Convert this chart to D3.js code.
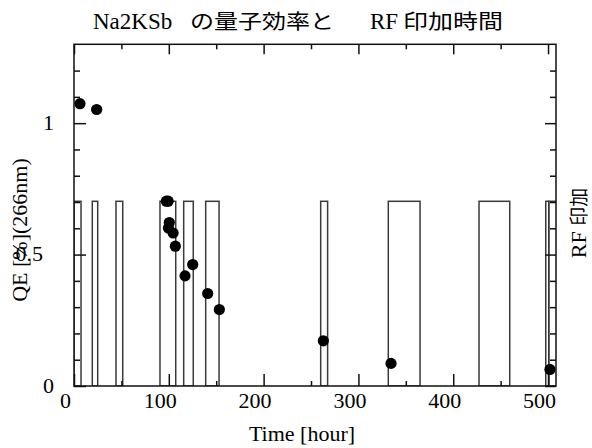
<!DOCTYPE html>
<html>
<head>
<meta charset="utf-8">
<script src="https://cdn.jsdelivr.net/npm/d3@7"></script>
<style>
  html, body { margin: 0; padding: 0; background: #fff; }
  svg { display: block; }
</style>
</head>
<body>
<svg id="chart" width="592" height="448"></svg>
<script>
// ---- data ----
const timeHour = [6.3, 23.9, 97.4, 99.3, 100.5, 99.6, 104.5, 106.9, 117.1, 125.2, 141.0, 153.3, 263.0, 334.4, 502.0];
const qePercent = [1.074, 1.052, 0.703, 0.703, 0.622, 0.601, 0.582, 0.532, 0.419, 0.462, 0.352, 0.291, 0.172, 0.086, 0.063];

// RF applied intervals (hours)
const rfStart = [0, 19.3, 44.3, 90.7, 115.7, 138.9, 260.2, 331.5, 427.2, 497.6, 500.8];
const rfEnd   = [7.4, 25.0, 51.4, 107.3, 125.8, 153.0, 267.5, 365.0, 459.6, 500.8, 512];
const rfOn = 1;

const xMajorTicks = [0, 100, 200, 300, 400, 500];
const xMinorTicks = [50, 150, 250, 350, 450];
const yMajorTicks = [0, 0.5, 1];
const yMinorTicks = [0.1, 0.2, 0.3, 0.4, 0.6, 0.7, 0.8, 0.9, 1.1, 1.2];

const titleLatin = "Na2KSb";
const titleJa1 = "の量子効率と";
const titleRF = "RF";
const titleJa2 = "印加時間";
const xLabel = "Time [hour]";
const yLabel = "QE [%](266nm)";
const y2Label = "RF 印加";

// ---- layout ----
const svg = d3.select("#chart");
const L = 74, R = 556, T = 44.3, B = 386;
const serif = "'Liberation Serif', 'Times New Roman', serif";
const cjk = "'Noto Sans CJK JP', sans-serif";

const x = d3.scaleLinear().domain([0, 508.4]).range([L, R]);
const y = d3.scaleLinear().domain([0, 1.3]).range([B, T]);
const yRF = d3.scaleLinear().domain([0, 1.85]).range([B, T]);

svg.append("defs").append("clipPath").attr("id", "plotclip")
  .append("rect").attr("x", L).attr("y", T).attr("width", R - L).attr("height", B - T);

// RF bars
const rf = rfStart.map((s, i) => ({ s, e: rfEnd[i], v: rfOn }));
svg.append("g").attr("clip-path", "url(#plotclip)")
  .selectAll("rect").data(rf).join("rect")
  .attr("x", d => x(d.s))
  .attr("width", d => x(d.e) - x(d.s))
  .attr("y", d => yRF(d.v))
  .attr("height", d => yRF(0) - yRF(d.v))
  .attr("fill", "none")
  .attr("stroke", "#3a3a3a")
  .attr("stroke-width", 1.5);

// axes helper
function styleAxis(g) {
  g.select(".domain").remove();
  g.selectAll(".tick line").attr("stroke", "#111").attr("stroke-width", 1.5);
  g.selectAll("text").attr("font-family", serif).attr("font-size", 22).attr("fill", "#000");
}

// bottom
svg.append("g").attr("transform", `translate(0,${B})`)
  .call(d3.axisBottom(x).tickValues(xMajorTicks).tickSizeInner(-12).tickSizeOuter(0).tickPadding(6.5).tickFormat(d3.format("d")))
  .call(styleAxis)
  .call(g => g.selectAll("text").attr("dx", -9));
svg.append("g").attr("transform", `translate(0,${B})`)
  .call(d3.axisBottom(x).tickValues(xMinorTicks).tickSizeInner(-5).tickSizeOuter(0).tickFormat(""))
  .call(styleAxis);
// top
svg.append("g").attr("transform", `translate(0,${T})`)
  .call(d3.axisTop(x).tickValues(xMajorTicks).tickSizeInner(-10).tickSizeOuter(0).tickFormat(""))
  .call(styleAxis);
svg.append("g").attr("transform", `translate(0,${T})`)
  .call(d3.axisTop(x).tickValues(xMinorTicks).tickSizeInner(-5).tickSizeOuter(0).tickFormat(""))
  .call(styleAxis);
// left
svg.append("g").attr("transform", `translate(${L},0)`)
  .call(d3.axisLeft(y).tickValues(yMajorTicks).tickSizeInner(-12).tickSizeOuter(0).tickPadding(20).tickFormat(d => String(d)))
  .call(styleAxis)
  .call(g => g.selectAll("text").attr("dx", d => (d % 1 ? -11 : 0)).attr("dy", "0.28em"));
svg.append("g").attr("transform", `translate(${L},0)`)
  .call(d3.axisLeft(y).tickValues(yMinorTicks).tickSizeInner(-6).tickSizeOuter(0).tickFormat(""))
  .call(styleAxis);
// right
svg.append("g").attr("transform", `translate(${R},0)`)
  .call(d3.axisRight(y).tickValues(yMajorTicks).tickSizeInner(-11).tickSizeOuter(0).tickFormat(""))
  .call(styleAxis);
svg.append("g").attr("transform", `translate(${R},0)`)
  .call(d3.axisRight(y).tickValues(yMinorTicks).tickSizeInner(-6).tickSizeOuter(0).tickFormat(""))
  .call(styleAxis);

// frame
svg.append("rect").attr("x", L).attr("y", T).attr("width", R - L).attr("height", B - T)
  .attr("fill", "none").attr("stroke", "#111").attr("stroke-width", 1.5);

// points
const pts = timeHour.map((t, i) => ({ t, q: qePercent[i] }));
svg.append("g").selectAll("circle").data(pts).join("circle")
  .attr("cx", d => x(d.t)).attr("cy", d => y(d.q)).attr("r", 5.6).attr("fill", "#000");

// title
const title = svg.append("text").attr("y", 29).attr("fill", "#000");
title.append("tspan").attr("x", 93).attr("font-family", serif).attr("font-size", 23).text(titleLatin);
title.append("tspan").attr("x", 190).attr("font-family", cjk).attr("font-size", 20)
  .attr("textLength", 144).attr("lengthAdjust", "spacingAndGlyphs").text(titleJa1);
title.append("tspan").attr("x", 370).attr("font-family", serif).attr("font-size", 23).text(titleRF);
title.append("tspan").attr("x", 403).attr("font-family", cjk).attr("font-size", 20)
  .attr("textLength", 100).attr("lengthAdjust", "spacingAndGlyphs").text(titleJa2);

// axis labels
svg.append("text").attr("x", (247 + 357) / 2).attr("y", 441).attr("text-anchor", "middle")
  .attr("font-family", serif).attr("font-size", 22).attr("fill", "#000").text(xLabel);

svg.append("text").attr("transform", "translate(27,230) rotate(-90)").attr("text-anchor", "middle")
  .attr("font-family", serif).attr("font-size", 22).attr("fill", "#000").text(yLabel);

const rl = svg.append("text").attr("transform", "translate(586,223) rotate(-90)").attr("text-anchor", "middle")
  .attr("fill", "#000");
rl.append("tspan").attr("font-family", serif).attr("font-size", 22).text("RF ");
rl.append("tspan").attr("font-family", cjk).attr("font-size", 19).text("印加");
</script>
</body>
</html>
